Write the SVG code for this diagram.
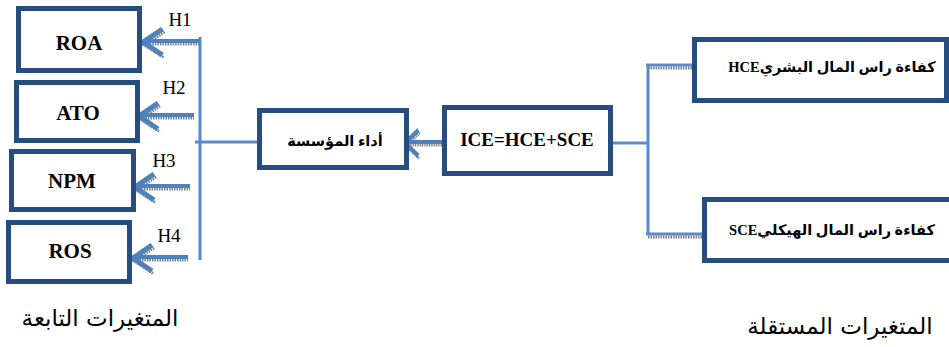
<svg xmlns="http://www.w3.org/2000/svg" width="949" height="347" viewBox="0 0 949 347">
<style>
.box{fill:#fff;stroke:#264D80;stroke-width:5}
.lat{font-family:"Liberation Serif",serif;font-weight:bold;font-size:21px;fill:#000;text-anchor:middle}
.ice{font-size:19px}
.ar{font-family:"Liberation Serif","DejaVu Sans",serif;font-weight:bold;font-size:14.5px;fill:#000;text-anchor:middle}
.h{font-family:"Liberation Serif",serif;font-size:19px;fill:#000;text-anchor:middle}
.big{font-family:"DejaVu Sans",serif;font-size:23px;fill:#000;text-anchor:middle}
.ln{fill:none;stroke:#5A8ACB;stroke-width:3}
.sh{fill:none;stroke:#808080;stroke-width:3;stroke-dasharray:1.5 1}
.shaft{fill:none;stroke:#4F81BD;stroke-width:4}
.head{fill:none;stroke:#4F81BD;stroke-width:5;stroke-linejoin:miter}
</style>
<defs>
<g id="arr">
<path class="sh" d="M2 2 L58 2"/>
<path class="sh" d="M24 -10 L4 3 L24 16"/>
<path class="shaft" d="M4 -1 L58 -1"/>
<path class="head" d="M22 -13 L3 0 L22 13"/>
</g>
</defs>
<g id="connectors">
<path class="ln" d="M200 37 V260"/>
<path class="ln" d="M195 142 H262"/>
<path class="ln" d="M612 143 H648"/>
<path class="ln" d="M648 64 V235"/>
<path class="sh" d="M648 68 H695"/>
<path class="ln" d="M646 65 H695"/>
<path class="sh" d="M648 237 H703"/>
<path class="ln" d="M646 234 H703"/>
<use href="#arr" transform="translate(140 42) scale(1.02 1)"/>
<use href="#arr" transform="translate(136 116)"/>
<use href="#arr" transform="translate(132 187)"/>
<use href="#arr" transform="translate(130 258)"/>
<g transform="translate(403 143) scale(0.7 1)"><use href="#arr"/></g>
<text class="h" x="180" y="26">H1</text>
<text class="h" x="174" y="94">H2</text>
<text class="h" x="164" y="167">H3</text>
<text class="h" x="169" y="242">H4</text>
</g>
<g id="roa"><rect class="box" x="18.5" y="8.5" width="121" height="62"/><text class="lat" x="79" y="50">ROA</text></g>
<g id="ato"><rect class="box" x="16.5" y="82.5" width="121" height="58"/><text class="lat" x="78" y="120">ATO</text></g>
<g id="npm"><rect class="box" x="11.5" y="151.5" width="122" height="58"/><text class="lat" x="72" y="188">NPM</text></g>
<g id="ros"><rect class="box" x="8.5" y="222.5" width="121" height="59"/><text class="lat" x="70" y="258">ROS</text></g>
<g id="adaa"><rect class="box" x="259.5" y="110.5" width="147" height="57"/><text class="ar" x="335" y="146" direction="rtl">أداء المؤسسة</text></g>
<g id="ice"><rect class="box" x="444.5" y="107.5" width="166" height="66"/><text class="lat ice" x="527" y="146">ICE=HCE+SCE</text></g>
<g id="hce"><rect class="box" x="694.5" y="39.5" width="252" height="61"/><text class="ar" x="832" y="72" direction="rtl">كفاءة راس المال البشريHCE</text></g>
<g id="sce"><rect class="box" x="704.5" y="199.5" width="250" height="61"/><text class="ar" x="832" y="235" direction="rtl">كفاءة راس المال الهيكليSCE</text></g>
<text class="big" x="100" y="326" direction="rtl">المتغيرات التابعة</text>
<text class="big" x="840" y="334" direction="rtl">المتغيرات المستقلة</text>
</svg>
